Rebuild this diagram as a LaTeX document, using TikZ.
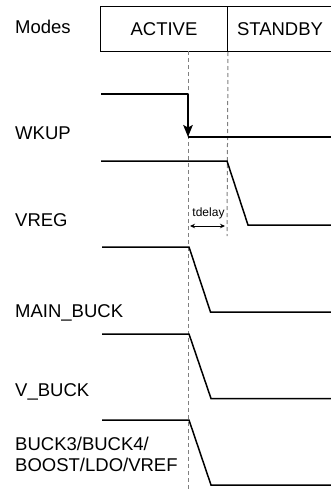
\documentclass[tikz,border=0pt]{standalone}
\usepackage{fontspec}
\setmainfont{Liberation Sans}
\usetikzlibrary{arrows.meta}
\begin{document}
\begin{tikzpicture}[x=1pt,y=-1pt,
  lbl/.style={anchor=base west,inner sep=0pt,font=\fontsize{18.5}{22}\selectfont},
  sig/.style={line width=1.5pt,line join=miter},
  guide/.style={draw=black!50,line width=1pt,dash pattern=on 4pt off 3pt},
  modebox/.style={draw,line width=1pt,minimum height=45pt,inner sep=0pt,anchor=north west,font=\fontsize{18.5}{22}\selectfont}]
\useasboundingbox (0,0) rectangle (331,490);
% mode boxes
\node[modebox,minimum width=127pt] (act) at (100,6) {ACTIVE};
\node[modebox,minimum width=105pt] (stb) at (227,6) {STANDBY};
% labels
\node[lbl] (lmodes) at (15,33.5) {Modes};
\node[lbl] (lwkup) at (15,139) {WKUP};
\node[lbl] (lvreg) at (15,226.7) {VREG};
\node[lbl] (lmain) at (15,317) {MAIN\_BUCK};
\node[lbl] (lvbuck) at (15,396.7) {V\_BUCK};
\node[lbl] (lbucka) at (15,450) {BUCK3/BUCK4/};
\node[lbl] (lbuckb) at (15,471.7) {BOOST/LDO/VREF};
% guides
\coordinate (d1t) at (188.5,51);
\coordinate (d1b) at (188.5,490);
\coordinate (d2b) at (227,236);
\draw[guide] (d1t) -- (d1b);
\draw[guide] (act.south east) -- (d2b);
% WKUP
\coordinate (w0) at (101,94);
\coordinate (w1) at (188,94);
\coordinate (w2) at (188,137);
\coordinate (w3) at (331,137);
\draw[sig] (w0) -- (w1);
\draw[sig,-{Stealth[length=12pt,width=9.5pt,inset=2.5pt]}] (w1) -- (w2);
\draw[sig] (w2) -- (w3);
% VREG
\draw[sig] (101,161) -- (227,161) -- (248,225) -- (331,225);
% MAIN_BUCK
\draw[sig] (102,247) -- (189,247) -- (210.5,312) -- (331,312);
% V_BUCK
\draw[sig] (102,334) -- (189,334) -- (211,398.5) -- (331,398.5);
% BUCK3...
\draw[sig] (102,420) -- (189,420) -- (211,485) -- (331,485);
% tdelay
\coordinate (ta) at (190,226);
\coordinate (tb) at (225,226);
\draw[line width=1pt,{Stealth[length=5pt,width=4.5pt]}-{Stealth[length=5pt,width=4.5pt]}] (ta) -- (tb);
\node[anchor=base,inner sep=0pt,font=\fontsize{12}{14}\selectfont] (tdl) at (208.5,216) {tdelay};
\end{tikzpicture}
\end{document}
